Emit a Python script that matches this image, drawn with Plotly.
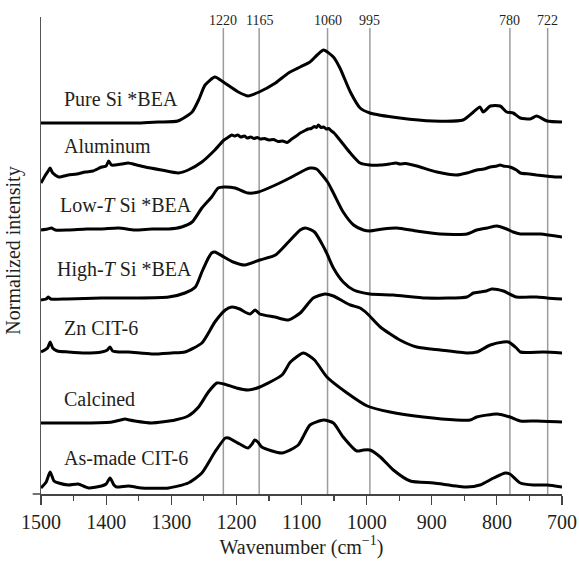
import plotly.graph_objects as go

# ---------------- data (stacked, normalized intensity) ----------------
wn_pure_si = [1500,1450,1400,1350,1320,1290,1268,1258,1248,1233,1220,1197,1182,1165,1140,1120,1102,1087,1076,1066,1051,1041,1025,1010,995,949,898,852,836,826,821,810,795,785,775,764,749,739,723,700]
int_pure_si = [3.71,3.71,3.71,3.71,3.72,3.73,3.82,3.94,4.09,4.17,4.12,4.02,3.98,4.02,4.11,4.21,4.27,4.32,4.39,4.44,4.37,4.26,4.02,3.86,3.81,3.76,3.73,3.74,3.82,3.87,3.82,3.88,3.88,3.82,3.81,3.76,3.75,3.78,3.73,3.72]

wn_aluminum = [1500,1494,1488,1486,1482,1473,1458,1445,1432,1420,1407,1400,1396,1392,1386,1376,1366,1353,1340,1315,1289,1274,1253,1233,1219,1212,1207,1203,1198,1193,1188,1183,1178,1173,1168,1163,1157,1150,1143,1136,1129,1122,1115,1108,1102,1096,1090,1085,1080,1077,1074,1070,1066,1062,1058,1054,1050,1041,1025,1010,995,979,965,955,949,940,923,892,862,846,831,820,810,800,795,790,780,770,764,750,739,725,708,700]
int_aluminum = [3.11,3.18,3.24,3.26,3.21,3.17,3.19,3.20,3.22,3.23,3.27,3.28,3.33,3.29,3.29,3.30,3.31,3.29,3.27,3.24,3.21,3.24,3.32,3.44,3.54,3.57,3.59,3.58,3.59,3.57,3.58,3.56,3.57,3.555,3.565,3.55,3.555,3.54,3.545,3.525,3.53,3.515,3.55,3.58,3.61,3.63,3.65,3.655,3.675,3.665,3.69,3.665,3.67,3.65,3.655,3.63,3.61,3.54,3.41,3.31,3.29,3.29,3.30,3.31,3.30,3.305,3.28,3.22,3.19,3.21,3.24,3.25,3.27,3.28,3.29,3.28,3.27,3.24,3.21,3.20,3.19,3.18,3.17,3.17]

wn_low_t = [1500,1490,1484,1478,1458,1430,1407,1381,1356,1330,1304,1284,1268,1253,1238,1228,1219,1202,1182,1166,1140,1115,1095,1087,1077,1060,1051,1036,1020,1005,995,975,954,923,887,846,831,815,800,785,775,764,733,700]
int_low_t = [2.64,2.65,2.66,2.64,2.64,2.65,2.65,2.66,2.64,2.65,2.65,2.67,2.72,2.86,2.97,3.06,3.07,3.06,3.01,3.02,3.09,3.17,3.24,3.26,3.25,3.12,3.01,2.82,2.69,2.64,2.63,2.65,2.66,2.63,2.60,2.60,2.64,2.66,2.68,2.65,2.62,2.60,2.60,2.57]

wn_high_t = [1500,1492,1489,1485,1460,1407,1356,1304,1279,1263,1253,1243,1238,1233,1219,1205,1187,1164,1140,1120,1102,1094,1080,1066,1060,1051,1036,1020,995,959,908,846,836,826,816,808,790,770,739,723,700]
int_high_t = [1.94,1.95,1.97,1.95,1.95,1.96,1.96,1.97,2.01,2.07,2.22,2.36,2.41,2.42,2.37,2.32,2.29,2.34,2.39,2.52,2.64,2.66,2.62,2.47,2.39,2.26,2.12,2.04,2.00,1.99,1.96,1.97,2.01,2.02,2.03,2.05,2.03,1.97,1.97,1.96,1.95]

wn_zn_cit6 = [1500,1490,1486,1482,1475,1458,1432,1407,1398,1394,1390,1380,1366,1330,1300,1279,1253,1233,1217,1207,1195,1187,1179,1171,1164,1141,1120,1102,1082,1064,1051,1025,1010,1000,979,949,923,887,846,831,810,790,782,770,764,728,700]
int_zn_cit6 = [1.42,1.46,1.52,1.46,1.43,1.42,1.41,1.42,1.44,1.47,1.43,1.42,1.42,1.40,1.41,1.42,1.51,1.72,1.84,1.87,1.85,1.82,1.80,1.84,1.80,1.77,1.74,1.81,1.96,2.00,1.98,1.89,1.86,1.81,1.67,1.54,1.47,1.44,1.41,1.42,1.49,1.52,1.52,1.46,1.42,1.42,1.41]

wn_calcined = [1500,1432,1391,1378,1371,1364,1356,1330,1294,1274,1258,1243,1230,1219,1200,1182,1164,1130,1117,1097,1080,1061,1030,999,964,913,862,841,831,800,780,764,739,700]
int_calcined = [0.71,0.71,0.72,0.74,0.75,0.74,0.73,0.71,0.74,0.78,0.87,1.02,1.11,1.10,1.06,1.04,1.07,1.19,1.32,1.41,1.34,1.17,1.01,0.88,0.82,0.77,0.74,0.74,0.77,0.80,0.77,0.73,0.73,0.72]

wn_as_made = [1500,1492,1486,1480,1473,1458,1443,1427,1407,1400,1394,1388,1384,1366,1345,1304,1274,1253,1233,1217,1212,1195,1182,1176,1172,1167,1161,1130,1105,1087,1066,1051,1036,1015,1005,995,979,959,933,897,846,826,805,787,780,764,744,723,700]
int_as_made = [0.06,0.12,0.22,0.13,0.11,0.09,0.10,0.06,0.08,0.10,0.16,0.09,0.07,0.08,0.06,0.06,0.11,0.21,0.42,0.56,0.56,0.50,0.46,0.50,0.54,0.52,0.47,0.41,0.49,0.69,0.74,0.71,0.57,0.43,0.44,0.44,0.37,0.24,0.13,0.11,0.07,0.09,0.16,0.21,0.20,0.11,0.09,0.09,0.07]

sample_labels = ["Pure Si *BEA", "Aluminum", "Low-<i>T</i> Si *BEA", "High-<i>T</i> Si *BEA",
                 "Zn CIT-6", "Calcined", "As-made CIT-6"]
ref_lines = [1220, 1165, 1060, 995, 780, 722]
x_ticks = [1500, 1400, 1300, 1200, 1100, 1000, 900, 800, 700]

series = [
    (wn_pure_si, int_pure_si),
    (wn_aluminum, int_aluminum),
    (wn_low_t, int_low_t),
    (wn_high_t, int_high_t),
    (wn_zn_cit6, int_zn_cit6),
    (wn_calcined, int_calcined),
    (wn_as_made, int_as_made),
]

SERIF = "'Liberation Serif', 'Times New Roman', serif"
TXT = "#231f20"

fig = go.Figure()
for (wx, wy), name in zip(series, sample_labels):
    fig.add_trace(go.Scatter(x=wx, y=wy, mode="lines", name=name,
                             line=dict(color="black", width=3, shape="spline", smoothing=0.6),
                             showlegend=False, hoverinfo="skip"))

# reference lines + top labels
for w in ref_lines:
    fig.add_shape(type="line", xref="x", yref="y", x0=w, x1=w, y0=0, y1=4.66,
                  line=dict(color="#9b9b9b", width=1.5), layer="below")
    fig.add_annotation(x=w, y=4.74, xref="x", yref="y", text=str(w), showarrow=False,
                       font=dict(family=SERIF, size=14, color=TXT), xanchor="center", yanchor="middle")

# sample labels (left aligned)
label_x = [1467, 1467, 1474, 1479, 1467, 1467, 1467]
label_y = [3.95, 3.48, 2.89, 2.25, 1.66, 0.95, 0.36]
for name, lx, ly in zip(sample_labels, label_x, label_y):
    fig.add_annotation(x=lx, y=ly, xref="x", yref="y", text=name, showarrow=False,
                       font=dict(family=SERIF, size=20, color=TXT), xanchor="left", yanchor="middle")

# y-axis title
fig.add_annotation(x=-0.052, y=0.51, xref="paper", yref="paper", text="Normalized intensity",
                   textangle=-90, showarrow=False, font=dict(family=SERIF, size=20, color=TXT),
                   xanchor="center", yanchor="middle")

# small extension of x-axis line to the left
fig.add_shape(type="line", xref="paper", yref="paper", x0=-0.016, x1=0, y0=0, y1=0,
              line=dict(color="#444444", width=1.5))

fig.update_layout(
    width=579, height=562,
    margin=dict(l=41, r=17, t=17, b=68, autoexpand=False),
    paper_bgcolor="white", plot_bgcolor="white",
    font=dict(family=SERIF, color=TXT),
    xaxis=dict(range=[1500, 700], tickvals=x_ticks, ticks="outside", ticklen=9, tickwidth=1.2,
               tickcolor="#444444", showline=True, linecolor="#444444", linewidth=1.5,
               showgrid=False, zeroline=False, automargin=False,
               tickfont=dict(family=SERIF, size=20, color=TXT),
               minor=dict(dtick=50, ticks="outside", ticklen=5, tickcolor="#444444", tickwidth=1.2, showgrid=False),
               title=dict(text="Wavenumber (cm<sup>−1</sup>)", standoff=8,
                          font=dict(family=SERIF, size=20, color=TXT))),
    yaxis=dict(range=[0, 4.77], showticklabels=False, ticks="", showgrid=False, zeroline=False,
               showline=True, linecolor="#555555", linewidth=1.5, automargin=False),
)

fig.write_html("out.html", config={"displayModeBar": False, "staticPlot": True},
               post_script="document.body.style.margin='0';document.body.style.padding='0';")
